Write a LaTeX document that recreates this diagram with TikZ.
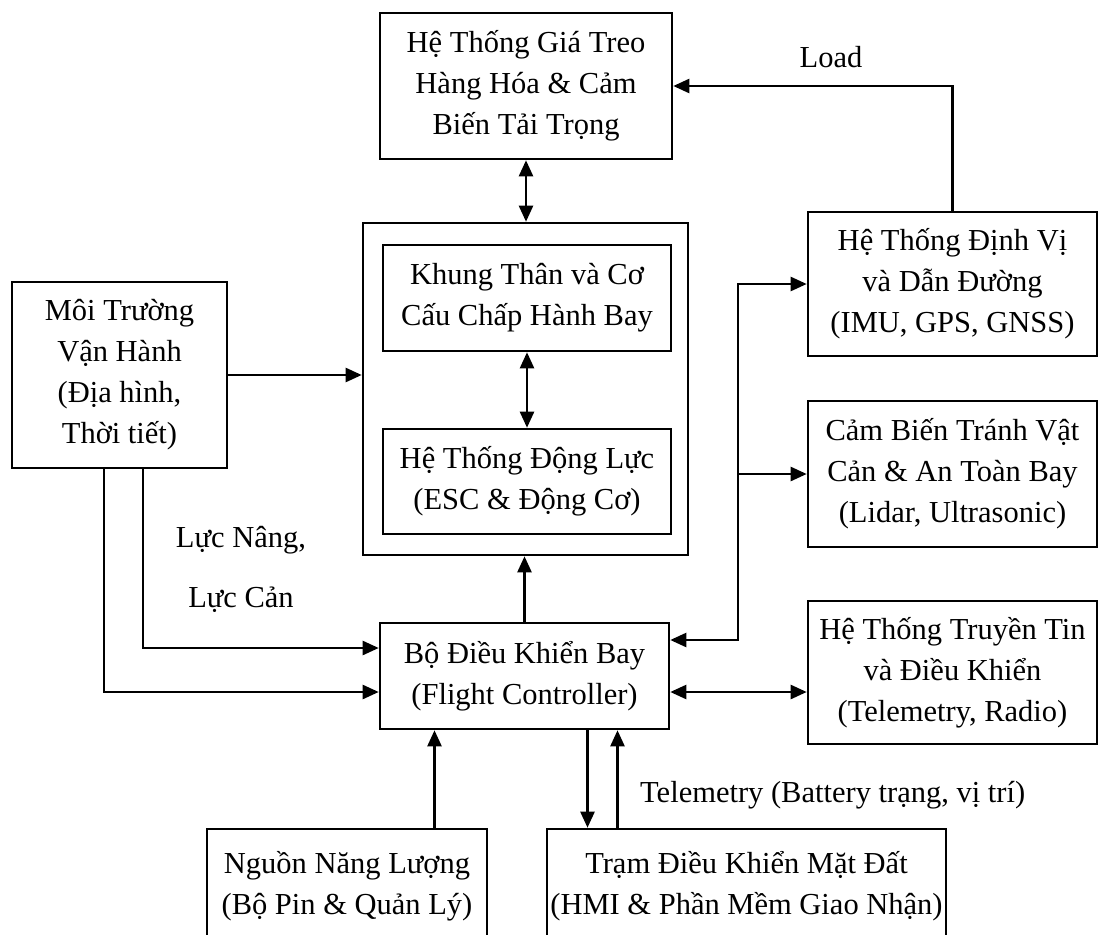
\documentclass[tikz,border=0pt]{standalone}
\usepackage{fontspec}
\setmainfont{Liberation Serif}
\usetikzlibrary{arrows.meta,calc}
\newcommand\fsz{\fontsize{30.5}{41}\selectfont}
\begin{document}
\begin{tikzpicture}[x=1pt,y=-1pt,
  >={Triangle[length=16pt,width=14pt]},
  box/.style={draw, line width=2.6pt, align=center, inner sep=0pt, font=\fsz},
  conn/.style={line width=2.4pt},
  lbl/.style={font=\fsz, inner sep=0pt}]
\useasboundingbox (0,0) rectangle (1102,934);
\clip (0,0) rectangle (1102,934);
\fill[white] (0,0) rectangle (1102,934);

% nodes
\node[box, minimum width=292pt, minimum height=146pt] (treo) at (526,86) {Hệ Thống Giá Treo\\Hàng Hóa \& Cảm\\Biến Tải Trọng};
\node[box, minimum width=325pt, minimum height=332pt] (outer) at (525.5,389) {};
\node[box, minimum width=288pt, minimum height=106pt] (khung) at (527,298) {Khung Thân và Cơ\\Cấu Chấp Hành Bay};
\node[box, minimum width=288pt, minimum height=105pt] (dongluc) at (527,481.5) {Hệ Thống Động Lực\\(ESC \& Động Cơ)};
\node[box, minimum width=215pt, minimum height=186pt] (moi) at (119.5,375) {Môi Trường\\Vận Hành\\(Địa hình,\\Thời tiết)};
\node[box, minimum width=289pt, minimum height=106pt] (fc) at (524.5,676) {Bộ Điều Khiển Bay\\(Flight Controller)};
\node[box, minimum width=289pt, minimum height=144pt] (dinhvi) at (952.5,284) {Hệ Thống Định Vị\\và Dẫn Đường\\(IMU, GPS, GNSS)};
\node[box, minimum width=289pt, minimum height=146pt] (camb) at (952.5,474) {Cảm Biến Tránh Vật\\Cản \& An Toàn Bay\\(Lidar, Ultrasonic)};
\node[box, minimum width=289pt, minimum height=143pt] (truyen) at (952.5,672.5) {Hệ Thống Truyền Tin\\và Điều Khiển\\(Telemetry, Radio)};
\node[box, minimum width=280pt, minimum height=115pt] (nguon) at (347,886.5) {Nguồn Năng Lượng\\(Bộ Pin \& Quản Lý)};
\node[box, minimum width=399pt, minimum height=115pt] (tram) at (746.5,886.5) {Trạm Điều Khiển Mặt Đất\\(HMI \& Phần Mềm Giao Nhận)};

% labels
\node[lbl] (load) at (831,57) {Load};
\node[lbl] (lucnang) at (241,540) {Lực Nâng,};
\node[lbl] (luccan) at (241,600) {Lực Cản};
\node[lbl, anchor=west] (telem) at (640,795) {Telemetry (Battery trạng, vị trí)};

% helper coordinates
\coordinate (busT) at (738,284);
\coordinate (busB) at (738,640);
\coordinate (moiA) at ($(moi.south west)+(132,0)$);
\coordinate (moiB) at ($(moi.south west)+(93,0)$);
\coordinate (fcN) at ($(fc.south)+(-90,0)$);
\coordinate (fcD) at ($(fc.south)+(63,0)$);
\coordinate (fcU) at ($(fc.south)+(93,0)$);
\coordinate (fcR) at ($(fc.east)+(0,16)$);

% connectors
\draw[conn,<->] (treo.south) -- (treo.south |- outer.north);
\draw[conn,<->] (khung.south) -- (dongluc.north);
\draw[conn,->] (fc.north) -- (fc.north |- outer.south);
\draw[conn,->] (moi.east) -- (moi.east -| outer.west);
\draw[conn,->] (moiA) |- ($(fc.west)+(0,-28)$);
\draw[conn,->] (moiB) |- ($(fc.west)+(0,16)$);
\draw[conn,<->] (fc.east |- busB) -- (busB) -- (busT) -- (dinhvi.west |- busT);
\draw[conn,->] (busB |- camb.west) -- (camb.west);
\draw[conn,<->] (fcR) -- (fcR -| truyen.west);
\draw[conn,->] (dinhvi.north) |- (treo.east);
\draw[conn,->] (fcN |- nguon.north) -- (fcN);
\draw[conn,->] (fcD) -- (fcD |- tram.north);
\draw[conn,->] (fcU |- tram.north) -- (fcU);
\end{tikzpicture}
\end{document}
